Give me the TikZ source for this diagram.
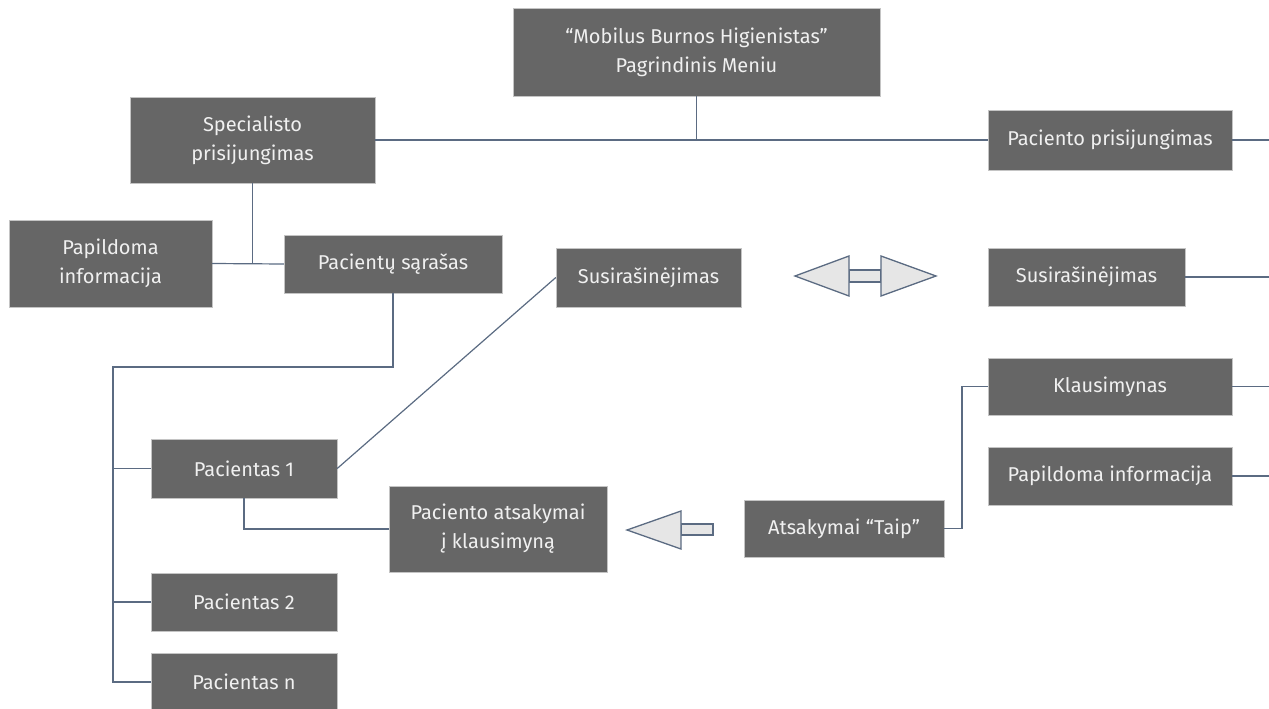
\documentclass[tikz,border=0pt]{standalone}
\usepackage{fontspec}
\setmainfont{Fira Sans}
\definecolor{boxgray}{HTML}{666666}
\definecolor{boxedge}{HTML}{C4C4C4}
\definecolor{linkgray}{HTML}{5B6B82}
\definecolor{arrowfill}{HTML}{E6E6E6}

\begin{document}
\begin{tikzpicture}[x=1pt, y=-1pt,
  menu/.style={fill=boxgray, draw=boxedge, text=white!94!black, align=center, inner sep=0pt, font=\fontsize{20}{29}\selectfont},
  link/.style={draw=linkgray, line width=1.2pt},
  blockarrow/.style={fill=arrowfill, draw=linkgray, line width=1.3pt, line join=miter}]

\useasboundingbox (0,0) rectangle (1269,709);

\node[menu, minimum width=367pt, minimum height=88pt] (main) at (696.5,52) {“Mobilus Burnos Higienistas"\\Pagrindinis Meniu};
\node[menu, minimum width=245pt, minimum height=86pt] (spec) at (252.5,140) {Specialisto\\prisijungimas};
\node[menu, minimum width=244pt, minimum height=60pt] (pacl) at (1110,140) {Paciento prisijungimas};
\node[menu, minimum width=203pt, minimum height=87pt] (papl) at (110.5,263.5) {Papildoma\\informacija};
\node[menu, minimum width=218pt, minimum height=58pt] (sar) at (393,264) {Pacientų sąrašas};
\node[menu, minimum width=185pt, minimum height=59pt] (susl) at (648.5,277.5) {Susirašinėjimas};
\node[menu, minimum width=197pt, minimum height=58pt] (susr) at (1086.5,277) {Susirašinėjimas};
\node[menu, minimum width=244pt, minimum height=57pt] (klaus) at (1110,386.5) {Klausimynas};
\node[menu, minimum width=244pt, minimum height=58pt] (papr) at (1110,476) {Papildoma informacija};
\node[menu, minimum width=200pt, minimum height=57pt] (taip) at (844,528.5) {Atsakymai “Taip"};
\node[menu, minimum width=218pt, minimum height=86pt] (ats) at (498,529) {Paciento atsakymai\\į klausimyną};
\node[menu, minimum width=186pt, minimum height=59pt] (p1) at (244,468.5) {Pacientas 1};
\node[menu, minimum width=186pt, minimum height=58pt] (p2) at (244,602) {Pacientas 2};
\node[menu, minimum width=186pt, minimum height=58pt] (pn) at (244,682) {Pacientas n};

\coordinate (e1) at (1269,140);
\coordinate (e2) at (1269,277);
\coordinate (e3) at (1269,386.5);
\coordinate (e4) at (1269,476);
\coordinate (trunk) at (113,367);
\coordinate (bend) at (962,0);

\draw[link] (main.south) -- (main.south |- spec.east);
\draw[link] (spec.east) -- (pacl.west);
\draw[link] (pacl.east) -- (e1);
\draw[link] (susr.east) -- (e2);
\draw[link] (klaus.east) -- (e3);
\draw[link] (papr.east) -- (e4);
\draw[link] (spec.south) -- (spec.south |- sar.west);
\draw[link] (papl.east) -- (sar.west);
\draw[link] (sar.south) |- (trunk) |- (pn.west);
\draw[link] (trunk |- p1.west) -- (p1.west);
\draw[link] (trunk |- p2.west) -- (p2.west);
\draw[link] (p1.east) -- (susl.west);
\draw[link] (p1.south) |- (ats.west);
\draw[link] (taip.east) -- (taip.east -| bend) |- (klaus.west);

\filldraw[blockarrow] (849,270) rectangle (881,282);
\filldraw[blockarrow] (795,276) -- (849,256) -- (849,296) -- cycle;
\filldraw[blockarrow] (936,276) -- (881,256) -- (881,296) -- cycle;

\filldraw[blockarrow] (681,524) rectangle (713,535);
\filldraw[blockarrow] (627,530) -- (681,511) -- (681,549) -- cycle;

\end{tikzpicture}
\end{document}
